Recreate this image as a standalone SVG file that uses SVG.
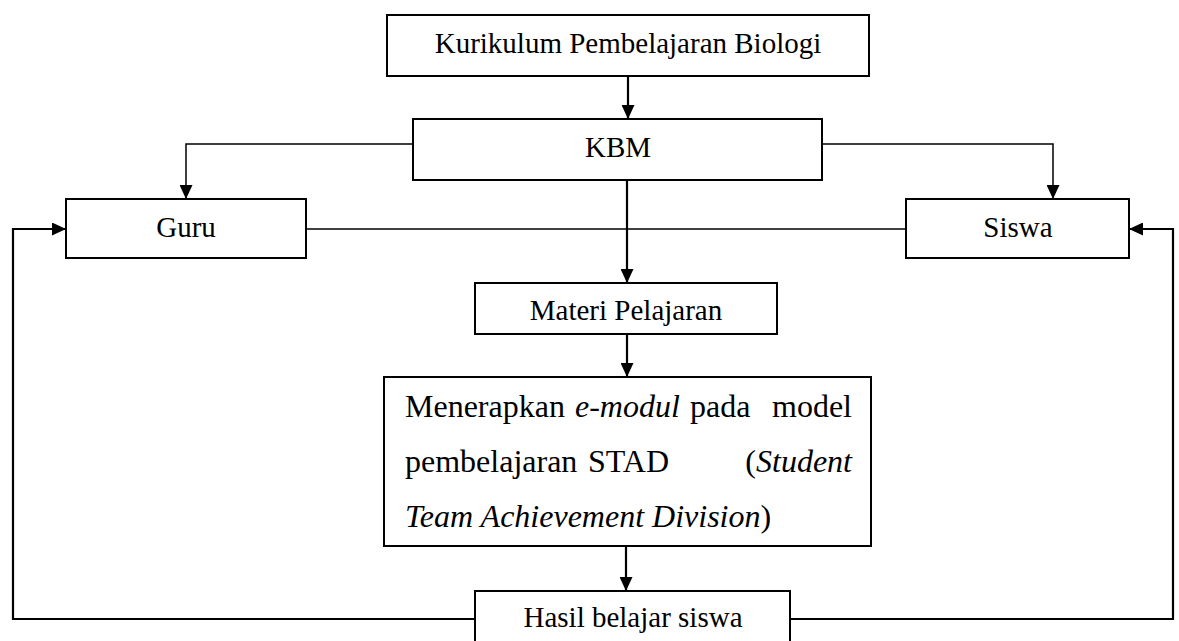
<svg xmlns="http://www.w3.org/2000/svg" width="1179" height="641" viewBox="0 0 1179 641">
<defs>
<marker id="ah" markerWidth="14" markerHeight="13" refX="14" refY="6.5" orient="auto" markerUnits="userSpaceOnUse" viewBox="0 0 14 13">
<path d="M0,0 L14,6.5 L0,13 Z" fill="#000"/>
</marker>
<style>
.box{fill:#fff;stroke:#000;stroke-width:2}
.t{font-family:"Liberation Serif","Times New Roman",serif;font-size:29px;fill:#000}
.b{font-family:"Liberation Serif","Times New Roman",serif;font-size:32px;fill:#000}
.i{font-style:italic}
.c{fill:none;stroke:#000;stroke-width:2.2}
.thin{fill:none;stroke:#000;stroke-width:1.5}
</style>
</defs>
<rect width="1179" height="641" fill="#fff"/>
<g id="connectors">
<path class="thin" d="M306,229 H906"/>
<path class="thin" d="M413,144 H186 V199" marker-end="url(#ah)"/>
<path class="thin" d="M822,144 H1053 V199" marker-end="url(#ah)"/>
<path class="c" d="M628,76 V119" marker-end="url(#ah)"/>
<path class="c" d="M627,180 V283" marker-end="url(#ah)"/>
<path class="c" d="M627,334 V377" marker-end="url(#ah)"/>
<path class="c" d="M626,546 V591" marker-end="url(#ah)"/>
<path class="c" d="M475,619 H13 V229 H66" marker-end="url(#ah)"/>
<path class="c" d="M790,619 H1173 V229 H1129" marker-end="url(#ah)"/>
</g>
<g id="kurikulum">
<rect class="box" x="387" y="15" width="482" height="61"/>
<text class="t" x="628" y="53" text-anchor="middle">Kurikulum Pembelajaran Biologi</text>
</g>
<g id="kbm">
<rect class="box" x="413" y="119" width="409" height="61"/>
<text class="t" x="618" y="157" text-anchor="middle">KBM</text>
</g>
<g id="guru">
<rect class="box" x="66" y="199" width="240" height="59"/>
<text class="t" x="186" y="237" text-anchor="middle">Guru</text>
</g>
<g id="siswa">
<rect class="box" x="906" y="199" width="223" height="59"/>
<text class="t" x="1018" y="237" text-anchor="middle">Siswa</text>
</g>
<g id="materi">
<rect class="box" x="475" y="283" width="302" height="51"/>
<text class="t" x="626" y="320" text-anchor="middle">Materi Pelajaran</text>
</g>
<g id="stad">
<rect class="box" x="384" y="377" width="487" height="169"/>
<text class="b" x="405" y="417">Menerapkan</text>
<text class="b i" x="575" y="417">e-modul</text>
<text class="b" x="690" y="417">pada</text>
<text class="b" x="852" y="417" text-anchor="end">model</text>
<text class="b" x="405" y="472">pembelajaran</text>
<text class="b" x="588" y="472">STAD</text>
<text class="b" x="852" y="472" text-anchor="end">(<tspan class="i">Student</tspan></text>
<text class="b" x="405" y="527"><tspan class="i">Team Achievement Division</tspan>)</text>
</g>
<g id="hasil">
<rect class="box" x="475" y="591" width="315" height="60"/>
<text class="t" x="633" y="627" text-anchor="middle">Hasil belajar siswa</text>
</g>
</svg>
